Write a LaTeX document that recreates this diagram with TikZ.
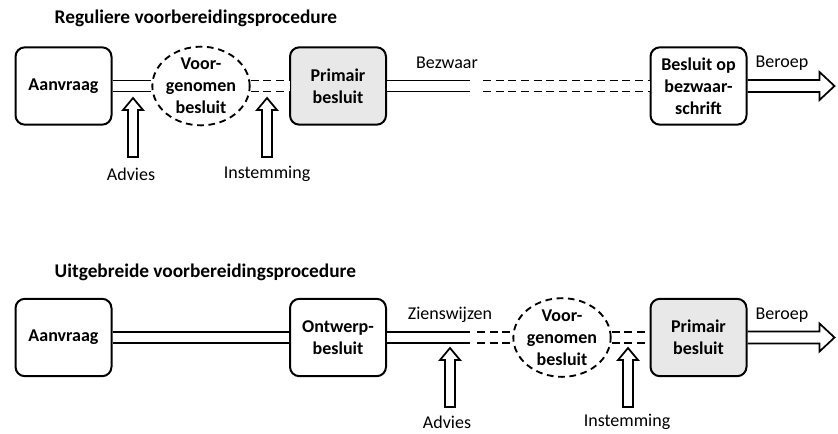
\documentclass[tikz,border=0pt]{standalone}
\usepackage{fontspec}
\setmainfont{Carlito}
\usetikzlibrary{shapes.geometric}

\newcommand{\tekst}{\fontsize{13.5}{16.5}\selectfont}

\tikzset{
    stap/.style={draw, line width=1.5pt, rounded corners=7pt,
        minimum width=72pt, minimum height=58pt, align=center,
        font=\tekst\bfseries},
    grijs/.style={stap, fill=black!9},
    voorg/.style={draw, ellipse, dash pattern=on 5pt off 3.5pt, line width=1.4pt,
        minimum width=73pt, minimum height=59pt, inner sep=0pt},
    dubbel/.style={double, double distance=7pt, line width=1.3pt},
    streep/.style={dash pattern=on 6pt off 3.5pt},
    kop/.style={anchor=west, font=\fontsize{14.5}{17}\selectfont\bfseries},
    tekstje/.style={font=\tekst},
    inpijl/.pic={
        \draw[line width=1.3pt, line join=miter]
            (-5,0) -- (-5,-47) -- (-10,-47) -- (0,-59) -- (10,-47)
            -- (5,-47) -- (5,0) -- cycle;
    },
    uitpijl/.pic={
        \draw[line width=1.3pt, line join=miter]
            (0,-6) -- (72,-6) -- (72,-14) -- (87,0) -- (72,14) -- (72,6) -- (0,6);
    }
}

\begin{document}
\begin{tikzpicture}[x=0.75pt, y=-0.75pt]
    \useasboundingbox (0,0) rectangle (838,433);

    % reguliere procedure
    \node[kop] (titel1) at (50,18) {Reguliere voorbereidingsprocedure};
    \node[stap] (aanv1) at (63.5,86) {Aanvraag};
    \node[voorg, label={[align=center, font=\tekst\bfseries]center:Voor-\\genomen\\besluit}] (voor1) at (201,86) {};
    \node[grijs] (prim1) at (338,86) {Primair\\besluit};
    \node[stap] (bsl1) at (698.5,86) {Besluit op\\bezwaar-\\schrift};
    \coordinate (brk1) at (470,86);
    \coordinate (brk1b) at (483,86);

    \draw[dubbel] (aanv1) -- (voor1);
    \draw[dubbel, streep] (voor1) -- (prim1);
    \draw[dubbel] (prim1.east) -- (brk1);
    \draw[dubbel, streep] (brk1b) -- (bsl1.west);
    \pic at (bsl1.east) {uitpijl};

    \node[tekstje] (bezw1) at (447,63) {Bezwaar};
    \node[tekstje] (ber1) at (782,63) {Beroep};
    \node[tekstje] (adv1) at (131,174) {Advies};
    \node[tekstje] (inst1) at (267,174) {Instemming};
    \pic at (133,157) {inpijl};
    \pic at (267,157) {inpijl};

    % uitgebreide procedure
    \node[kop] (titel2) at (50,272) {Uitgebreide voorbereidingsprocedure};
    \node[stap] (aanv2) at (63.5,337.5) {Aanvraag};
    \node[stap] (ontw2) at (338,337.5) {Ontwerp-\\besluit};
    \node[voorg, label={[align=center, font=\tekst\bfseries]center:Voor-\\genomen\\besluit}] (voor2) at (562,337.5) {};
    \node[grijs] (prim2) at (698.5,337.5) {Primair\\besluit};
    \coordinate (brk2) at (470,337.5);
    \coordinate (brk2b) at (477,337.5);

    \draw[dubbel] (aanv2) -- (ontw2);
    \draw[dubbel] (ontw2.east) -- (brk2);
    \draw[dubbel, streep] (brk2b) -- (voor2);
    \draw[dubbel, streep] (voor2) -- (prim2);
    \pic at (prim2.east) {uitpijl};

    \node[tekstje] (zien2) at (450,315) {Zienswijzen};
    \node[tekstje] (ber2) at (782,315) {Beroep};
    \node[tekstje] (adv2) at (447,422) {Advies};
    \node[tekstje] (inst2) at (627,422) {Instemming};
    \pic at (450,407) {inpijl};
    \pic at (628,407) {inpijl};
\end{tikzpicture}
\end{document}
